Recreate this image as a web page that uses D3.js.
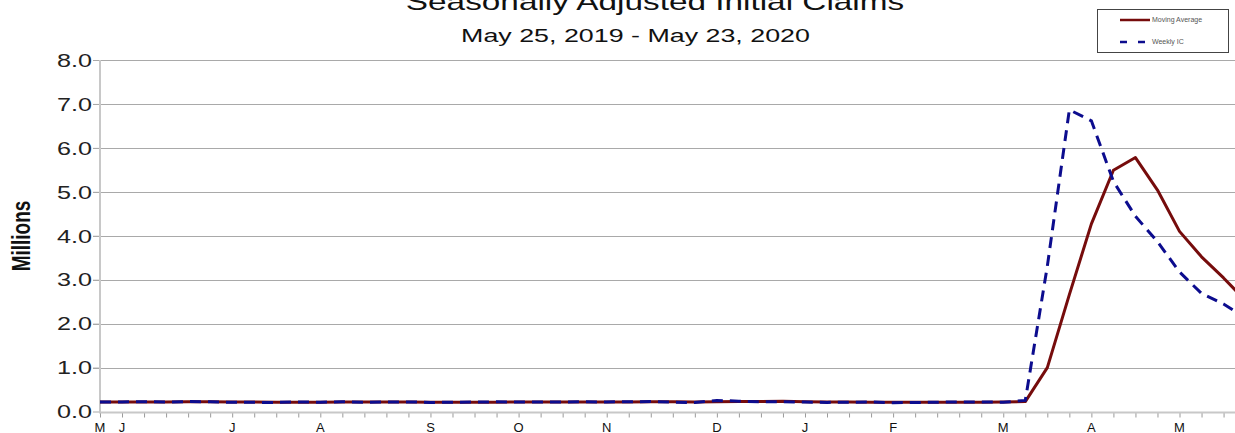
<!DOCTYPE html>
<html>
<head>
<meta charset="utf-8">
<script src="https://cdn.jsdelivr.net/npm/d3@7"></script>
<style>
  body { margin: 0; background: #fff; }
  svg { display: block; font-family: Arial, "Liberation Sans", sans-serif; }
</style>
</head>
<body>
<div id="chart"></div>
<script>
// week ending dates, May 25, 2019 .. May 23, 2020 (53 weeks)
const startWeek = new Date(2019, 4, 25);
const weeks = d3.range(53).map(i => d3.timeWeek.offset(startWeek, i));

// month initials and the week they sit on
const monthLabels = ["M", "J", "J", "A", "S", "O", "N", "D", "J", "F", "M", "A", "M"];
const monthWeeks = [0, 1, 6, 10, 15, 19, 23, 28, 32, 36, 41, 45, 49];

const yTicks = [0, 1, 2, 3, 4, 5, 6, 7, 8];

// millions
const weeklyIC = [
  0.215, 0.218, 0.222, 0.216, 0.227, 0.222, 0.209, 0.208, 0.207, 0.217,
  0.211, 0.222, 0.211, 0.216, 0.219, 0.206, 0.210, 0.215, 0.220, 0.215,
  0.214, 0.218, 0.220, 0.218, 0.221, 0.227, 0.213, 0.203, 0.252, 0.235,
  0.222, 0.223, 0.214, 0.207, 0.211, 0.216, 0.201, 0.205, 0.210, 0.219,
  0.217, 0.211, 0.251, 3.307, 6.867, 6.615, 5.237, 4.442, 3.867, 3.176,
  2.687, 2.446, 2.123
];
const movingAvg = [
  0.216, 0.216, 0.218, 0.218, 0.221, 0.222, 0.218, 0.216, 0.212, 0.210,
  0.211, 0.214, 0.215, 0.215, 0.216, 0.213, 0.213, 0.213, 0.213, 0.215,
  0.216, 0.217, 0.217, 0.218, 0.219, 0.222, 0.220, 0.216, 0.224, 0.228,
  0.228, 0.233, 0.224, 0.217, 0.214, 0.212, 0.209, 0.208, 0.208, 0.209,
  0.213, 0.214, 0.226, 0.998, 2.660, 4.270, 5.490, 5.780, 5.040, 4.100,
  3.520, 3.040, 2.520
];

const W = 1235, H = 433;
const plotLeft = 100, plotTop = 60, plotBottom = 411.5;
const stretch = 1.45; // the source text is drawn wide

const svg = d3.select("#chart").append("svg")
  .attr("width", W)
  .attr("height", H);

const x = d3.scaleTime()
  .domain([weeks[0], weeks[weeks.length - 1]])
  .range([plotLeft, 1245.6]);

const y = d3.scaleLinear()
  .domain([0, 8])
  .range([plotBottom, plotTop]);

// gridlines (they poke out left of the axis as tick marks)
svg.append("g")
  .selectAll("line")
  .data(yTicks.filter(d => d > 0))
  .enter()
  .append("line")
  .attr("x1", plotLeft - 7)
  .attr("x2", W)
  .attr("y1", d => Math.round(y(d)) + 0.5)
  .attr("y2", d => Math.round(y(d)) + 0.5)
  .attr("stroke", "#a9a9a9")
  .attr("stroke-width", 1);

// y labels
const yAxis = svg.append("g")
  .attr("transform", `translate(${plotLeft},0)`)
  .call(d3.axisLeft(y).tickValues(yTicks).tickFormat(d3.format(".1f")).tickSize(7).tickSizeOuter(0));
yAxis.select(".domain").remove();
yAxis.selectAll("line").attr("stroke", "#a9a9a9");
yAxis.selectAll("text")
  .attr("x", -8 / 1.4)
  .attr("dy", "0.35em")
  .attr("transform", "scale(1.4,1)")
  .style("font-size", "18px")
  .attr("fill", "#222");

// x axis: weekly ticks, month initials
const xAxis = svg.append("g")
  .attr("transform", `translate(0,${plotBottom + 1})`)
  .call(d3.axisBottom(x).tickValues(weeks).tickSize(5).tickSizeOuter(0).tickFormat(""));
xAxis.select(".domain").remove();
xAxis.selectAll("line").attr("stroke", "#9a9a9a");

svg.append("g")
  .selectAll("text")
  .data(monthWeeks)
  .enter()
  .append("text")
  .attr("x", d => x(weeks[d]))
  .attr("y", 431.5)
  .attr("text-anchor", "middle")
  .style("font-size", "13px")
  .attr("fill", "#111")
  .text((d, i) => monthLabels[i]);

// axis lines
svg.append("line")
  .attr("x1", plotLeft).attr("x2", plotLeft)
  .attr("y1", plotTop).attr("y2", plotBottom + 1)
  .attr("stroke", "#c8c8c8").attr("stroke-width", 2);
svg.append("line")
  .attr("x1", plotLeft - 1).attr("x2", W)
  .attr("y1", plotBottom + 1).attr("y2", plotBottom + 1)
  .attr("stroke", "#c8c8c8").attr("stroke-width", 2);

// series
const line = d3.line()
  .x((d, i) => x(weeks[i]))
  .y(d => y(d));

svg.append("path")
  .datum(movingAvg)
  .attr("d", line)
  .attr("fill", "none")
  .attr("stroke", "#760c0c")
  .attr("stroke-width", 3)
  .attr("stroke-linejoin", "round");

svg.append("path")
  .datum(weeklyIC)
  .attr("d", line)
  .attr("fill", "none")
  .attr("stroke", "#0c0c8e")
  .attr("stroke-width", 3)
  .attr("stroke-dasharray", "11,7");

// titles
svg.append("text")
  .attr("transform", `translate(655,10) scale(${stretch},1)`)
  .attr("text-anchor", "middle")
  .style("font-size", "23px")
  .attr("fill", "#111")
  .text("Seasonally Adjusted Initial Claims");

svg.append("text")
  .attr("transform", `translate(635.5,42) scale(${stretch},1)`)
  .attr("text-anchor", "middle")
  .style("font-size", "18.5px")
  .attr("fill", "#111")
  .text("May 25, 2019 - May 23, 2020");

svg.append("text")
  .attr("transform", `translate(21,236) scale(1.4,1) rotate(-90)`)
  .attr("text-anchor", "middle")
  .attr("dy", "0.35em")
  .style("font-size", "19px")
  .style("font-weight", "bold")
  .attr("fill", "#111")
  .text("Millions");

// legend
const legend = svg.append("g");
legend.append("rect")
  .attr("x", 1097.5).attr("y", 9.5)
  .attr("width", 131).attr("height", 43)
  .attr("fill", "#fff")
  .attr("stroke", "#444");

legend.append("line")
  .attr("x1", 1120).attr("x2", 1150)
  .attr("y1", 20).attr("y2", 20)
  .attr("stroke", "#760c0c").attr("stroke-width", 2.5);
legend.append("line")
  .attr("x1", 1120).attr("x2", 1150)
  .attr("y1", 42).attr("y2", 42)
  .attr("stroke", "#0c0c8e").attr("stroke-width", 2.5)
  .attr("stroke-dasharray", "7,11");

legend.append("text")
  .attr("x", 1152).attr("y", 20).attr("dy", "0.35em")
  .style("font-size", "7px").attr("fill", "#555")
  .text("Moving Average");
legend.append("text")
  .attr("x", 1152).attr("y", 42).attr("dy", "0.35em")
  .style("font-size", "7px").attr("fill", "#555")
  .text("Weekly IC");
</script>
</body>
</html>
